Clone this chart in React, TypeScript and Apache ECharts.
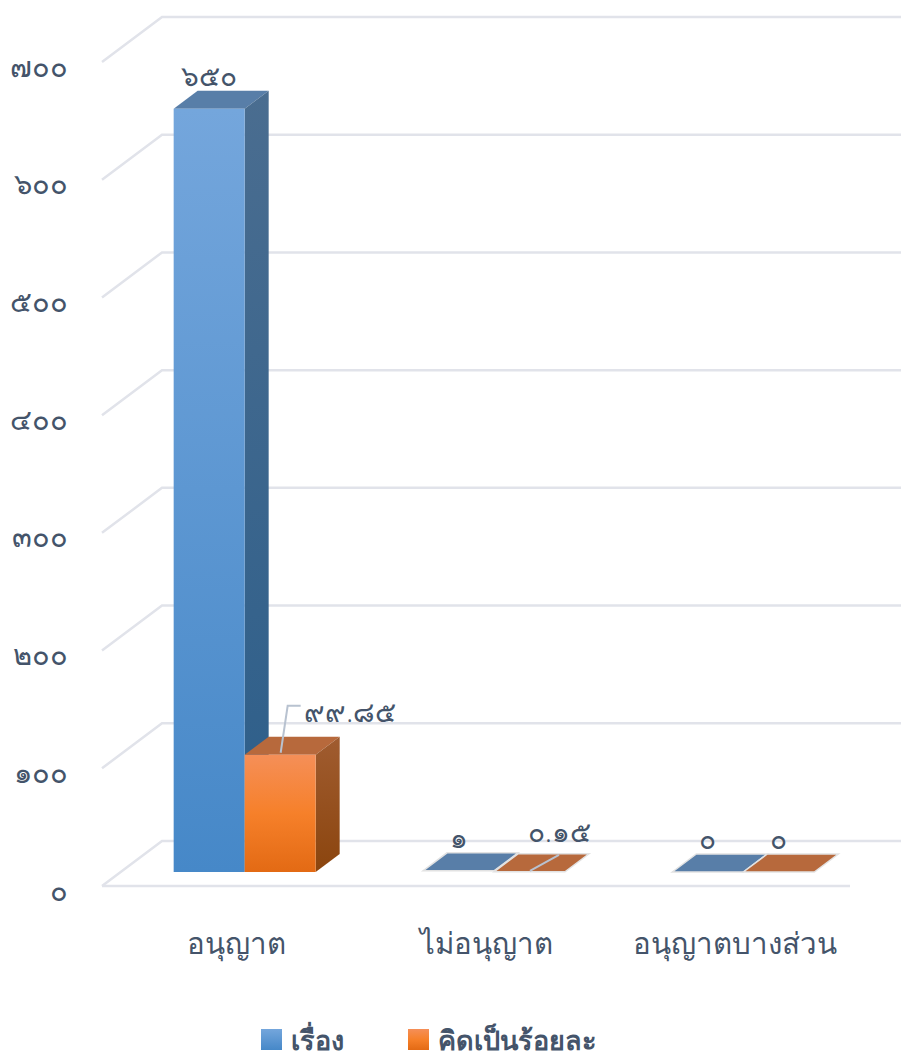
import React, { useEffect, useRef } from "react";
import * as echarts from "echarts";

const categories = ["อนุญาต", "ไม่อนุญาต", "อนุญาตบางส่วน"];
const seriesNames = ["เรื่อง", "คิดเป็นร้อยละ"];
const caseValues = [650, 1, 0];
const percentValues = [99.85, 0.15, 0];
const caseLabels = ["๖๕๐", "๑", "๐"];
const percentLabels = ["๙๙.๘๕", "๐.๑๕", "๐"];
const yTicks = [0, 100, 200, 300, 400, 500, 600, 700];
const thaiDigits = "๐๑๒๓๔๕๖๗๘๙";

const FONT = "'Noto Sans', 'DejaVu Sans', sans-serif";
const TEXT = "#44546a";
const GRID = "#e1e3ea";
const lin = (a: string, b: string, c?: string) =>
  new echarts.graphic.LinearGradient(0, 0, 0, 1,
    c ? [{ offset: 0, color: a }, { offset: 0.5, color: b }, { offset: 1, color: c }]
      : [{ offset: 0, color: a }, { offset: 1, color: b }]);

const blue = {
  front: () => lin("#74a6dc", "#4688c8"),
  top: "#587ea8",
  side: () => lin("#4a6d90", "#2c5e8a"),
};
const orange = {
  front: () => lin("#f58f58", "#f6802a", "#e36a14"),
  top: "#b7693c",
  side: () => lin("#a05c30", "#8b450e"),
};

const DEPTH_X = 24, DEPTH_Y = -18, BAR_W = 71, BASE_UP = 14, BAR_SCALE = 0.9975;

function barRenderer(slot: number, palette: any, labels: string[]) {
  return (params: any, api: any) => {
    const i = api.value(0);
    const v = api.value(1);
    const base = api.coord([i, 0]);
    const top = api.coord([i, v]);
    const x0 = base[0] - 63 + slot * BAR_W;
    const x1 = x0 + BAR_W;
    const yB = base[1] - BASE_UP;
    const yT = yB - (base[1] - top[1]) * BAR_SCALE;
    const flat = v < 5;
    const stroke = flat ? { stroke: "#e2e2e2", lineWidth: 1.5 } : {};
    const poly = (points: number[][], fill: any, extra: any = {}) => ({
      type: "polygon", shape: { points }, style: { fill, ...extra },
    });
    const children: any[] = [
      poly([[x0, yT], [x0 + DEPTH_X, yT + DEPTH_Y], [x1 + DEPTH_X, yT + DEPTH_Y], [x1, yT]], palette.top, stroke),
    ];
    if (!flat) {
      children.push(poly([[x1, yT], [x1 + DEPTH_X, yT + DEPTH_Y], [x1 + DEPTH_X, yB + DEPTH_Y], [x1, yB]], palette.side()));
      children.push(poly([[x0, yT], [x1, yT], [x1, yB], [x0, yB]], palette.front()));
    }
    let lx = x0 + BAR_W / 2;
    let ly = yT - 34;
    const isPercent = slot === 1 && v > 0;
    if (isPercent && v > 50) {
      lx += 70; ly = yT - 44;
      children.push({
        type: "polyline",
        shape: { points: [[x0 + 36, yT - 2], [x0 + 43, yT - 49], [x0 + 56, yT - 49]] },
        style: { stroke: "#b8c2d0", lineWidth: 2, fill: "none" },
      });
    } else if (isPercent) {
      lx += 30; ly = yT - 41;
      children.push({
        type: "line",
        shape: { x1: x0 + 36, y1: yT - 1, x2: x0 + 65, y2: yT - 17 },
        style: { stroke: "#b8c2d0", lineWidth: 2 },
      });
    }
    children.push({
      type: "text",
      style: {
        x: lx, y: ly, text: labels[i], fill: TEXT, font: `300 28px ${FONT}`,
        align: "center", verticalAlign: "middle",
      },
    });
    return { type: "group", children };
  };
}

function gridRenderer(params: any, api: any) {
  const v = api.value(0);
  const p = api.coord([0, v]);
  const cs = params.coordSys;
  const xL = cs.x - 10;
  const y = p[1];
  const style = { stroke: GRID, lineWidth: 2.5, fill: "none" };
  const children: any[] = [{
    type: "polyline",
    shape: { points: [[xL, y], [xL + 60, y - 45], [901, y - 45]] },
    style,
  }];
  if (v === 0) {
    children.push({ type: "line", shape: { x1: xL, y1: y, x2: cs.x + cs.width - 10, y2: y }, style });
  }
  return { type: "group", children };
}

export default function App() {
  const ref = useRef<HTMLDivElement>(null);
  useEffect(() => {
    document.body.style.margin = "0";
    const chart = echarts.init(ref.current!, undefined, { renderer: "svg" });
    chart.setOption({
      animation: false,
      grid: { left: 112, top: 62, width: 748, height: 824 },
      legend: {
        left: 261, top: 1026, padding: 0, itemWidth: 21, itemHeight: 21, itemGap: 64, selectedMode: false,
        icon: "rect",
        textStyle: { color: TEXT, fontFamily: FONT, fontSize: 27, lineHeight: 27, fontWeight: "bold", padding: [0, 0, 0, 4] },
        data: seriesNames.map((name, k) => ({
          name,
          itemStyle: { color: k === 0 ? blue.front() : orange.front() },
        })),
      },
      xAxis: {
        type: "category",
        data: categories,
        axisLine: { show: false },
        axisTick: { show: false },
        axisLabel: { color: TEXT, fontFamily: FONT, fontSize: 29.5, fontWeight: 300, margin: 41, interval: 0 },
      },
      yAxis: {
        type: "value",
        min: 0,
        max: 700,
        interval: 100,
        axisLine: { show: false },
        axisTick: { show: false },
        splitLine: { show: false },
        axisLabel: {
          color: TEXT, fontFamily: FONT, fontSize: 29, fontWeight: 300, margin: 44,
          verticalAlign: "top", lineHeight: 6,
          formatter: (v: number) => String(v).replace(/\d/g, (d) => thaiDigits[+d]),
        },
      },
      series: [
        {
          type: "custom", name: "grid", coordinateSystem: "cartesian2d", silent: true, z: 1,
          renderItem: gridRenderer, data: yTicks.map((v) => [v]), encode: { y: 0 },
        },
        {
          type: "custom", name: seriesNames[0], z: 2, itemStyle: { color: "#5b9bd5" },
          renderItem: barRenderer(0, blue, caseLabels),
          data: caseValues.map((v, i) => [i, v]), encode: { x: 0, y: 1 },
        },
        {
          type: "custom", name: seriesNames[1], z: 3, itemStyle: { color: "#ed7d31" },
          renderItem: barRenderer(1, orange, percentLabels),
          data: percentValues.map((v, i) => [i, v]), encode: { x: 0, y: 1 },
        },
      ],
    });
    return () => chart.dispose();
  }, []);
  return <div ref={ref} style={{ position: "absolute", left: 0, top: 0, width: 901, height: 1057 }} />;
}
